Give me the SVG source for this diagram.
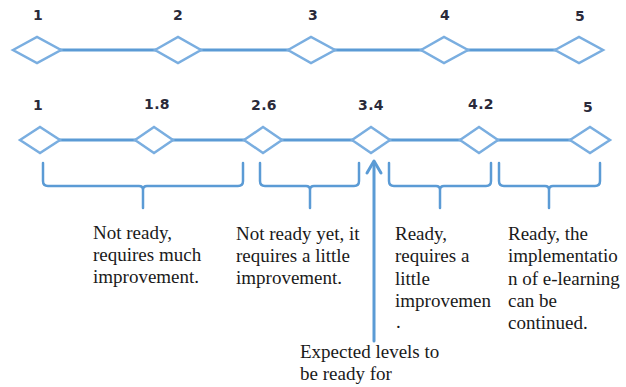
<svg xmlns="http://www.w3.org/2000/svg" width="626" height="387" viewBox="0 0 626 387">
<style>
.ln{stroke:#5b9bd5;stroke-width:3;fill:none;stroke-linecap:round;stroke-linejoin:round}
.dm{stroke:#7aaee0;stroke-width:2.5;fill:#ffffff}
.num{font-family:"DejaVu Sans",sans-serif;font-weight:bold;font-size:14px;fill:#2a2a3a;text-anchor:middle;letter-spacing:0.4px}
.txt{font-family:"Liberation Serif","Times New Roman",serif;font-size:19px;fill:#1a1a1a}
.br{stroke:#5b9bd5;stroke-width:2.5;fill:none;stroke-linecap:round;stroke-linejoin:round}
</style>
<rect width="626" height="387" fill="#ffffff"/>
<g id="connectors">
<line class="ln" x1="37" y1="50" x2="579" y2="50"/>
<line class="ln" x1="40" y1="140" x2="590" y2="140"/>
<path class="ln" d="M374,162 V341" stroke-width="3.5"/>
<path class="ln" d="M367,173 L374,161 L381,173" stroke-width="3.5"/>
</g>
<g id="scale-top">
<polygon class="dm" points="13,50 37,37 61,50 37,63"/>
<polygon class="dm" points="155,50 178,37 201,50 178,63"/>
<polygon class="dm" points="288,50 311,37 335,50 311,63"/>
<polygon class="dm" points="421,50 444,37 468,50 444,63"/>
<polygon class="dm" points="555,50 579,37 603,50 579,63"/>
<text class="num" x="38" y="20">1</text>
<text class="num" x="178" y="20">2</text>
<text class="num" x="313" y="20">3</text>
<text class="num" x="445" y="20">4</text>
<text class="num" x="580" y="21">5</text>
</g>
<g id="scale-bottom">
<polygon class="dm" points="20,140 40,127 60,140 40,153"/>
<polygon class="dm" points="135,140 154,127 173,140 154,153"/>
<polygon class="dm" points="244,140 263,127 282,140 263,153"/>
<polygon class="dm" points="352,140 371,127 390,140 371,153"/>
<polygon class="dm" points="460,140 479,127 498,140 479,153"/>
<polygon class="dm" points="570,140 590,127 610,140 590,153"/>
<text class="num" x="38" y="110">1</text>
<text class="num" x="157" y="109">1.8</text>
<text class="num" x="264" y="110">2.6</text>
<text class="num" x="371" y="110">3.4</text>
<text class="num" x="481" y="109">4.2</text>
<text class="num" x="588" y="112">5</text>
</g>
<g id="bracket-1">
<path class="br" d="M43,163 V181 Q43,186 48,186 H139 Q143,186 143,190 V208 M143,190 Q143,186 147,186 H238 Q243,186 243,181 V163"/>
</g>
<g id="bracket-2">
<path class="br" d="M260,163 V181 Q260,186 265,186 H306 Q310,186 310,190 V208 M310,190 Q310,186 314,186 H354 Q359,186 359,181 V163"/>
</g>
<g id="bracket-3">
<path class="br" d="M389,163 V181 Q389,186 394,186 H436 Q440,186 440,190 V208 M440,190 Q440,186 444,186 H486 Q491,186 491,181 V163"/>
</g>
<g id="bracket-4">
<path class="br" d="M499,163 V181 Q499,186 504,186 H545 Q549,186 549,190 V208 M549,190 Q549,186 553,186 H595 Q600,186 600,181 V163"/>
</g>
<g id="label-1">
<text class="txt" x="93" y="239">Not ready,</text>
<text class="txt" x="93" y="261">requires much</text>
<text class="txt" x="93" y="283">improvement.</text>
</g>
<g id="label-2">
<text class="txt" x="236" y="240">Not ready yet, it</text>
<text class="txt" x="236" y="262">requires a little</text>
<text class="txt" x="236" y="284">improvement.</text>
</g>
<g id="label-3">
<text class="txt" x="395" y="240">Ready,</text>
<text class="txt" x="395" y="262">requires a</text>
<text class="txt" x="395" y="285">little</text>
<text class="txt" x="395" y="307">improvemen</text>
<text class="txt" x="396" y="328">.</text>
</g>
<g id="label-4">
<text class="txt" x="508" y="240">Ready, the</text>
<text class="txt" x="508" y="262">implementatio</text>
<text class="txt" x="508" y="285">n of e-learning</text>
<text class="txt" x="508" y="307">can be</text>
<text class="txt" x="508" y="329">continued.</text>
</g>
<g id="label-expected">
<text class="txt" x="300" y="358">Expected levels to</text>
<text class="txt" x="300" y="380">be ready for</text>
</g>
</svg>
